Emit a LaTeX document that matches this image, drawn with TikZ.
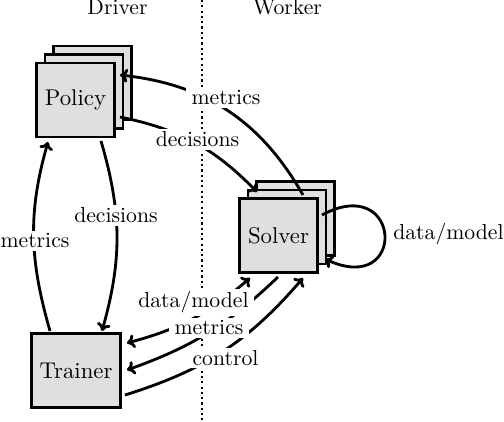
\documentclass[tikz,border=0pt]{standalone}
\usetikzlibrary{calc,arrows.meta}
\begin{document}
\begin{tikzpicture}[x=0.4608pt,y=-0.4608pt,
  box/.style={draw=black,line width=1.3pt,fill=gray!25,minimum width=36pt,minimum height=34.1pt,inner xsep=3.75pt,font=\fontsize{10.5}{12}\selectfont},
  lbl/.style={fill=white,inner xsep=2.5pt,inner ysep=1.2pt,anchor=base,font=\fontsize{10}{12}\selectfont},
  ttl/.style={anchor=base,font=\fontsize{10}{12}\selectfont},
  tip/.tip={To[length=3.6pt,width=6.4pt]},
  conn/.style={line width=1.3pt,-tip},
  bconn/.style={line width=1.3pt,tip-tip}]
\useasboundingbox (0,0) rectangle (504,422);
% divider
\coordinate (divtop) at (202,0);
\coordinate (divbot) at (202,422);
\draw[line width=1.05pt,dash pattern=on 1pt off 1.44pt] (divtop) -- (divbot);
% titles
\node[ttl] (driver) at (117.5,15) {Driver};
\node[ttl] (worker) at (287.5,15) {Worker};
% stacks
\node[box] (policy3) at (92.5,83) {};
\node[box] (policy2) at (84,91.5) {};
\node[box] (policy) at (75.5,100) {Policy};
\node[box] (solver3) at (295.5,218.5) {};
\node[box] (solver2) at (287,227) {};
\node[box] (solver) at (278.5,235.5) {Solver};
\node[box] (trainer) at (76,370.5) {Trainer};
% edges
\draw[conn] ($(solver.center)+(24.5,-40.5)$) .. controls (260.5,120.6) and (205.2,84.3) .. ($(policy.center)+(44.5,-25)$);
\draw[conn] ($(policy.center)+(44.5,17)$) .. controls (179.9,129.4) and (214.3,148.2) .. ($(solver.center)+(-21.5,-43.5)$);
\draw[conn] ($(policy.center)+(25.5,41)$) .. controls (121.9,212.5) and (122.2,259.5) .. ($(trainer.center)+(26,-39.5)$);
\draw[conn] ($(trainer.center)+(-26,-39.5)$) .. controls (29.6,259.9) and (27.6,213.1) .. ($(policy.center)+(-27.5,42)$);
\draw[conn] ($(solver.center)+(43.5,-20.5)$) .. controls (402,172) and (408,297) .. ($(solver.center)+(46.5,23.5)$);
\draw[bconn] ($(trainer.center)+(51,-27.5)$) .. controls (179.6,329) and (208.8,313.6) .. ($(solver.center)+(-28.5,42.5)$);
\draw[conn] ($(solver.center)+(-0.5,41.5)$) .. controls (227.8,324.9) and (192.4,346.7) .. ($(trainer.center)+(51,-0.5)$);
\draw[conn] ($(trainer.center)+(49,24.5)$) .. controls (204.6,370.2) and (248.7,341.3) .. ($(solver.center)+(24.5,42.5)$);
% labels
\node[lbl] (l1) at (226,105) {metrics};
\node[lbl] (l2) at (197.5,147) {decisions};
\node[lbl] (l3) at (116,223) {decisions};
\node[lbl] (l4) at (35,248) {metrics};
\node[lbl] (l5) at (448.5,240) {data/model};
\node[lbl] (l6) at (193.5,308) {data/model};
\node[lbl] (l7) at (209,335) {metrics};
\node[lbl] (l8) at (225.5,365.5) {control};
\end{tikzpicture}
\end{document}
